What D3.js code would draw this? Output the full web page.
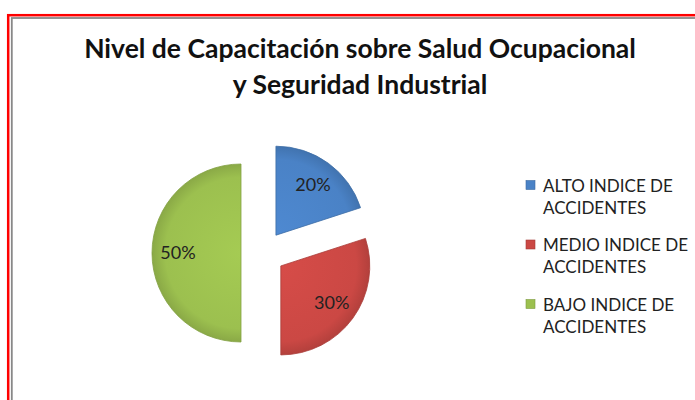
<!DOCTYPE html>
<html>
<head>
<meta charset="utf-8">
<script src="https://cdn.jsdelivr.net/npm/d3@7"></script>
<style>
  body { margin: 0; background: #fff; }
  svg { display: block; font-family: Lato, 'Open Sans', sans-serif; }
</style>
</head>
<body>
<svg id="chart" width="695" height="400"></svg>
<script>
const categories = ['ALTO INDICE DE ACCIDENTES', 'MEDIO INDICE DE ACCIDENTES', 'BAJO INDICE DE ACCIDENTES'];
const legendLines = [['ALTO INDICE DE', 'ACCIDENTES'], ['MEDIO INDICE DE', 'ACCIDENTES'], ['BAJO INDICE DE', 'ACCIDENTES']];
const values = [20, 30, 50];
const colors = ['#4a82c6', '#cb4844', '#9cc04f'];
const titleLines = ['Nivel de Capacitación sobre Salud Ocupacional', 'y Seguridad Industrial'];

const w = 695;
const h = 400;
const cx = 263;
const cy = 253;
const r = 89;
const explode = 22;

const svg = d3.select('#chart');

// double frame (red outer, grey inner)
svg.append('rect')
  .attr('x', 8.2).attr('y', 15.2)
  .attr('width', w + 20).attr('height', h + 20)
  .attr('fill', 'none').attr('stroke', '#ff0000').attr('stroke-width', 2.5);
svg.append('rect')
  .attr('x', 11.8).attr('y', 18)
  .attr('width', w + 20).attr('height', h + 20)
  .attr('fill', 'none').attr('stroke', '#888888').attr('stroke-width', 1.8);

// title
svg.append('g')
  .selectAll('text')
  .data(titleLines)
  .enter()
  .append('text')
  .attr('x', 360)
  .attr('y', (d, i) => 58 + i * 35.5)
  .attr('text-anchor', 'middle')
  .attr('font-size', 26.5)
  .attr('font-weight', 'bold')
  .attr('fill', '#111')
  .text(d => d);

const color = d3.scaleOrdinal().domain(categories).range(colors);

const pie = d3.pie().sort(null).value(d => d.value);
const arcs = pie(categories.map((c, i) => ({ name: c, value: values[i] })));

const arc = d3.arc().innerRadius(0).outerRadius(r);
const labelArc = d3.arc().innerRadius(63).outerRadius(63);

const defs = svg.append('defs');
colors.forEach((c, i) => {
  const g = defs.append('radialGradient')
    .attr('id', `grad${i}`)
    .attr('gradientUnits', 'userSpaceOnUse')
    .attr('cx', 0).attr('cy', 0).attr('r', r);
  g.append('stop').attr('offset', '0%').attr('stop-color', d3.color(c).brighter(0.15));
  g.append('stop').attr('offset', '85%').attr('stop-color', c);
  g.append('stop').attr('offset', '100%').attr('stop-color', d3.color(c).darker(0.35));
});

const offset = d => {
  const a = (d.startAngle + d.endAngle) / 2;
  return [Math.sin(a) * explode, -Math.cos(a) * explode];
};

const slices = svg.append('g')
  .attr('transform', `translate(${cx},${cy})`)
  .selectAll('g')
  .data(arcs)
  .enter()
  .append('g')
  .attr('transform', d => `translate(${offset(d)})`);

slices.append('path')
  .attr('d', arc)
  .attr('fill', (d, i) => `url(#grad${i})`)
  .attr('stroke', d => d3.color(color(d.data.name)).darker(0.5))
  .attr('stroke-width', 0.8);

slices.append('text')
  .attr('transform', d => `translate(${labelArc.centroid(d)})`)
  .attr('text-anchor', 'middle')
  .attr('dy', '0.35em')
  .attr('font-size', 18)
  .attr('fill', '#222')
  .text(d => `${d.data.value}%`);

// legend
const legend = svg.append('g')
  .selectAll('g')
  .data(categories)
  .enter()
  .append('g')
  .attr('transform', (d, i) => `translate(526, ${180.5 + i * 59.5})`);

legend.append('rect')
  .attr('width', 9).attr('height', 9)
  .attr('fill', d => color(d))
  .attr('stroke', d => d3.color(color(d)).darker(0.6))
  .attr('stroke-width', 0.6);

legend.append('text')
  .attr('x', 17)
  .attr('y', 11)
  .attr('font-size', 17)
  .attr('fill', '#222')
  .selectAll('tspan')
  .data((d, i) => legendLines[i])
  .enter()
  .append('tspan')
  .attr('x', 17)
  .attr('dy', (d, i) => i === 0 ? 0 : 22)
  .text(d => d);
</script>
</body>
</html>
